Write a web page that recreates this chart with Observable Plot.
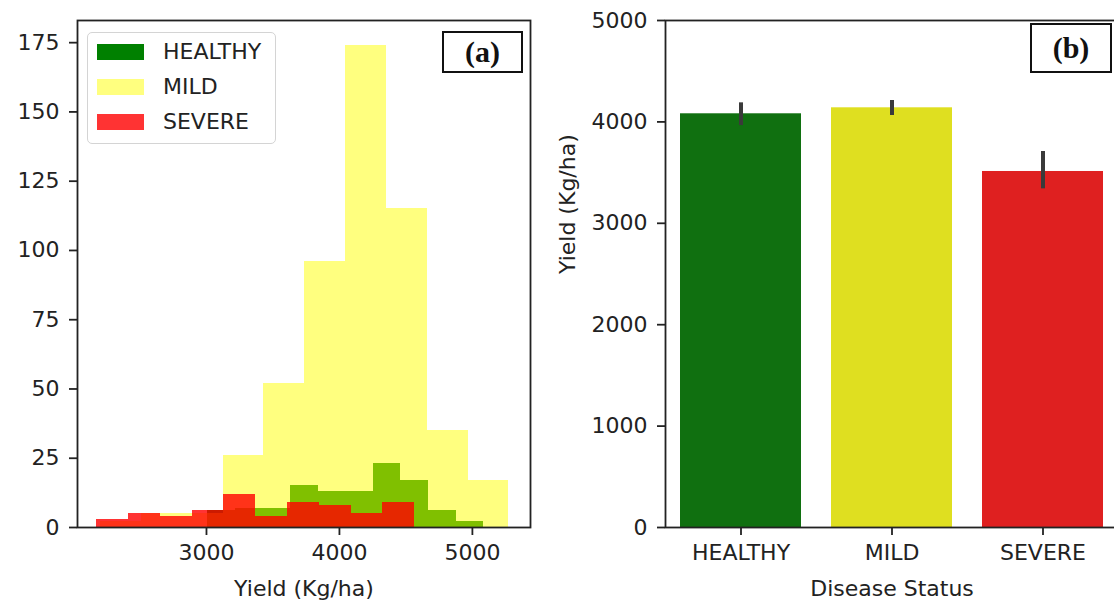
<!DOCTYPE html>
<html>
<head>
<meta charset="utf-8">
<script src="https://cdn.jsdelivr.net/npm/d3@7"></script>
<script src="https://cdn.jsdelivr.net/npm/@observablehq/plot@0.6"></script>
<style>
  html, body { margin: 0; padding: 0; background: #fff; overflow: hidden; width: 1114px; height: 600px; }
  #wrap { position: relative; width: 1114px; height: 600px; overflow: hidden; font-family: "DejaVu Sans", sans-serif; color: #222; }
  .panel { position: absolute; top: 0; }
  .legend { position: absolute; left: 87px; top: 32px; width: 189px; height: 112px; box-sizing: border-box;
            border: 1.5px solid #d4d4d4; border-radius: 5px; background: rgba(255,255,255,0.8); }
  .legend .sw { position: absolute; left: 9px; width: 47px; height: 16px; }
  .legend .lab { position: absolute; left: 75px; font-size: 22px; line-height: 22px; white-space: nowrap; color: #222; }
  .tag { position: absolute; box-sizing: border-box; border: 2px solid #111; background: #fff;
         font-family: "Liberation Serif", "DejaVu Serif", serif; font-weight: bold; font-size: 30px;
         display: flex; align-items: center; justify-content: center; color: #111; }
</style>
</head>
<body>
<div id="wrap"></div>
<script>
// ---- Panel (a): histogram bin counts (Yield, Kg/ha) ----
const healthyCounts = [6, 7, 7, 15, 13, 13, 23, 17, 6, 2];
const healthyBinStart = 3007, healthyBinWidth = 208;
const mildCounts = [2, 5, 5, 26, 52, 96, 174, 115, 35, 17];
const mildBinStart = 2204, mildBinWidth = 307;
const severeCounts = [3, 5, 4, 6, 12, 4, 9, 8, 5, 9];
const severeBinStart = 2175, severeBinWidth = 239;
const histXTicks = [3000, 4000, 5000];
const histYTicks = [0, 25, 50, 75, 100, 125, 150, 175];
const seriesNames = ["HEALTHY", "MILD", "SEVERE"];

// ---- Panel (b): mean yield by disease status with error bars ----
const statusCategories = ["HEALTHY", "MILD", "SEVERE"];
const meanYield = [4080, 4139, 3511];
const ciLow = [3964, 4063, 3340];
const ciHigh = [4188, 4211, 3708];
const barYTicks = [0, 1000, 2000, 3000, 4000, 5000];

const histColors = {HEALTHY: "#008000", MILD: "#ffff00", SEVERE: "#ff0000"};
const histOpacity = {HEALTHY: 1, MILD: 0.5, SEVERE: 0.8};
const barColors = {HEALTHY: "#107010", MILD: "#dfdf20", SEVERE: "#df2020"};

function bins(counts, start, width, name) {
  return counts.map((c, i) => ({x1: start + i * width, x2: start + (i + 1) * width, count: c, name}));
}
const healthyBins = bins(healthyCounts, healthyBinStart, healthyBinWidth, "HEALTHY");
const mildBins = bins(mildCounts, mildBinStart, mildBinWidth, "MILD");
const severeBins = bins(severeCounts, severeBinStart, severeBinWidth, "SEVERE");

const barData = statusCategories.map((s, i) => ({status: s, mean: meanYield[i], lo: ciLow[i], hi: ciHigh[i]}));

const baseStyle = {fontFamily: "DejaVu Sans, sans-serif", fontSize: "22px", color: "#222", background: "transparent", overflow: "visible"};
const plain = d => String(d);

const histRect = (data) => Plot.rect(data, {
  x1: "x1", x2: "x2", y1: () => 0, y2: "count",
  fill: histColors[data[0].name], fillOpacity: histOpacity[data[0].name],
  shapeRendering: "crispEdges"
});

const plotA = Plot.plot({
  width: 557, height: 600,
  marginLeft: 77, marginRight: 27, marginTop: 20, marginBottom: 73,
  style: baseStyle,
  x: {domain: [2030, 5437]},
  y: {domain: [0, 183]},
  marks: [
    histRect(healthyBins),
    histRect(mildBins),
    histRect(severeBins),
    Plot.axisX(histXTicks, {tickSize: 8, tickPadding: 9, strokeWidth: 1.8, label: null, fontSize: 22, tickFormat: plain}),
    Plot.axisY(histYTicks, {tickSize: 8, tickPadding: 10, strokeWidth: 1.8, label: null, fontSize: 22, tickFormat: plain}),
    Plot.frame({stroke: "#222", strokeWidth: 1.8}),
    Plot.text(["Yield (Kg/ha)"], {text: d => d, frameAnchor: "bottom", dy: 61, lineAnchor: "middle", fontSize: 22, fill: "#222"})
  ]
});

const plotB = Plot.plot({
  width: 565, height: 600,
  marginLeft: 108, marginRight: 4, marginTop: 20, marginBottom: 73,
  style: baseStyle,
  x: {type: "band", domain: statusCategories, paddingInner: 0.2, paddingOuter: 0.1},
  y: {domain: [0, 5000]},
  color: {type: "identity"},
  marks: [
    Plot.barY(barData, {x: "status", y1: () => 0, y2: "mean", fill: d => barColors[d.status]}),
    Plot.ruleX(barData, {x: "status", y1: "lo", y2: "hi", stroke: "#3a3a3a", strokeWidth: 4}),
    Plot.axisX({tickSize: 8, tickPadding: 9, strokeWidth: 1.8, label: null, fontSize: 22}),
    Plot.axisY(barYTicks, {tickSize: 8, tickPadding: 10, strokeWidth: 1.8, label: null, fontSize: 22, tickFormat: plain}),
    Plot.frame({stroke: "#222", strokeWidth: 1.8}),
    Plot.text(["Disease Status"], {text: d => d, frameAnchor: "bottom", dy: 61, lineAnchor: "middle", fontSize: 22, fill: "#222"}),
    Plot.text(["Yield (Kg/ha)"], {text: d => d, frameAnchor: "left", dx: -98, rotate: -90, lineAnchor: "middle", fontSize: 22, fill: "#222"})
  ]
});

const wrap = document.getElementById("wrap");
plotA.classList.add("panel"); plotA.style.left = "0px";
plotB.classList.add("panel"); plotB.style.left = "557px";
wrap.appendChild(plotA);
wrap.appendChild(plotB);

// Legend for panel (a)
const legend = document.createElement("div");
legend.className = "legend";
const rowTops = [8, 43, 78];
seriesNames.forEach((name, i) => {
  const sw = document.createElement("div");
  sw.className = "sw";
  sw.style.top = (rowTops[i] + 3) + "px";
  sw.style.background = histColors[name];
  sw.style.opacity = histOpacity[name];
  legend.appendChild(sw);
  const lab = document.createElement("div");
  lab.className = "lab";
  lab.style.top = rowTops[i] + "px";
  lab.textContent = name;
  legend.appendChild(lab);
});
wrap.appendChild(legend);

// Panel tags
function tag(text, left, top, w, h) {
  const t = document.createElement("div");
  t.className = "tag";
  t.textContent = text;
  t.style.left = left + "px"; t.style.top = top + "px";
  t.style.width = w + "px"; t.style.height = h + "px";
  wrap.appendChild(t);
}
tag("(a)", 442, 31, 81, 42);
tag("(b)", 1030, 23, 82, 50);
</script>
</body>
</html>
